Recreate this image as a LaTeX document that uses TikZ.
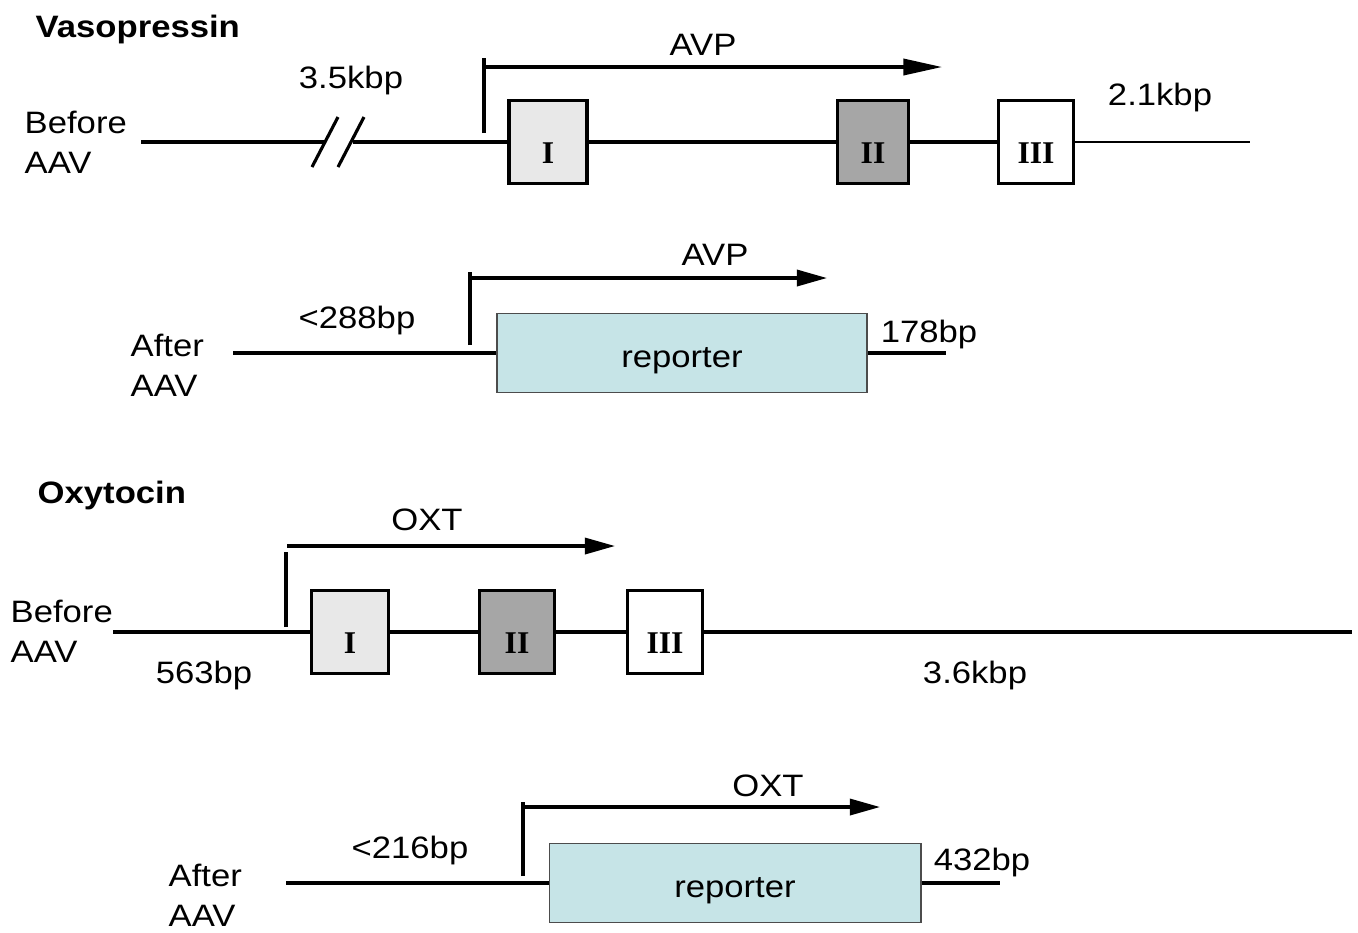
\documentclass[tikz,border=0pt]{standalone}
\usepackage{fontspec}
\setmainfont{Liberation Sans}[FakeStretch=1.12]
\newfontfamily\exonfont{Liberation Serif}
\usetikzlibrary{arrows.meta}
\usetikzlibrary{positioning}
\definecolor{reportercyan}{RGB}{198,228,231}

\begin{document}
\begin{tikzpicture}[x=0.01cm,y=-0.01cm,
  txt/.style={font=\fontsize{8.8}{11.4}\selectfont,inner sep=0pt},
  ttl/.style={font=\fontsize{8.8}{11.4}\selectfont\bfseries,inner sep=0pt,anchor=base west},
  side/.style={txt,align=left,anchor=west},
  dna/.style={line width=0.9pt},
  tail/.style={line width=0.65pt},
  tssarrow/.style={line width=0.9pt,-{Triangle[length=#1,width=4.6pt]}},
  tssarrow/.default=8.6pt,
  exon/.style={draw,line width=0.9pt,rectangle,inner sep=0pt,minimum height=0.83cm,
    font=\exonfont\bfseries\fontsize{9}{9}\selectfont,text height=12pt,text depth=0pt},
  reporter/.style={draw=black!70,line width=0.5pt,fill=reportercyan,inner sep=0pt,
    minimum width=3.7cm,minimum height=0.79cm,font=\fontsize{8.8}{11.4}\selectfont,
    text height=8.2pt,text depth=0pt}]
\useasboundingbox (0,0) rectangle (1358,932);

% Vasopressin, before AAV
\node[ttl] (vtitle) at (35,37) {Vasopressin};
\node[side] (vbefore) at (24,142) {Before\\AAV};
\coordinate (vstart) at (141,142);
\coordinate (vcuta) at (324,142);
\coordinate (vcutb) at (353,142);
\node[exon,fill=black!9,minimum width=0.78cm] (vI) at (548,142) {I};
\node[exon,fill=black!35,minimum width=0.71cm] (vII) at (873,142) {II};
\node[exon,fill=white,minimum width=0.75cm] (vIII) at (1036,142) {III};
\coordinate (vend) at (1250,142);
\draw[dna] (vstart) -- (vcuta);
\draw[dna] (vcutb) -- (vI);
\draw[dna] (vI) -- (vII);
\draw[dna] (vII) -- (vIII);
\draw[tail] (vIII) -- (vend);
\draw[dna] (312,167) -- (338,117);
\draw[dna] (338,167) -- (364,117);
\coordinate (vtssa) at (484,133);
\coordinate (vtssb) at (484,58);
\coordinate (vtssc) at (484,67);
\coordinate (vtssd) at (942,67);
\draw[dna] (vtssa) -- (vtssb);
\draw[tssarrow=11pt] (vtssc) -- (vtssd);
\node[txt,anchor=base] (vavp) at (703,55) {AVP};
\node[txt,anchor=base] (vup) at (351,88) {3.5kbp};
\node[txt,anchor=base] (vdown) at (1160,105) {2.1kbp};

% Vasopressin, after AAV
\node[side] (vafter) at (130,365) {After\\AAV};
\coordinate (vastart) at (233,353);
\node[reporter] (vrep) at (682,353) {reporter};
\coordinate (vaend) at (946,353);
\draw[dna] (vastart) -- (vrep);
\draw[dna] (vrep) -- (vaend);
\coordinate (vatssa) at (470,345);
\coordinate (vatssb) at (470,272);
\coordinate (vatssc) at (470,278);
\coordinate (vatssd) at (827,278);
\draw[dna] (vatssa) -- (vatssb);
\draw[tssarrow] (vatssc) -- (vatssd);
\node[txt,anchor=base] (vaavp) at (715,265) {AVP};
\node[txt,anchor=base] (vaup) at (357,328) {<288bp};
\node[txt,anchor=base] (vadown) at (929,342) {178bp};

% Oxytocin, before AAV
\node[ttl] (otitle) at (37,503) {Oxytocin};
\node[side] (obefore) at (10,631) {Before\\AAV};
\coordinate (ostart) at (113,632);
\node[exon,fill=black!9,minimum width=0.77cm] (oI) at (350,632) {I};
\node[exon,fill=black!35,minimum width=0.75cm] (oII) at (517,632) {II};
\node[exon,fill=white,minimum width=0.75cm] (oIII) at (665,632) {III};
\coordinate (oend) at (1352,632);
\draw[dna] (ostart) -- (oI);
\draw[dna] (oI) -- (oII);
\draw[dna] (oII) -- (oIII);
\draw[dna] (oIII) -- (oend);
\coordinate (otssa) at (286,627);
\coordinate (otssb) at (286,552);
\coordinate (otssc) at (287,546);
\coordinate (otssd) at (615,546);
\draw[dna] (otssa) -- (otssb);
\draw[tssarrow] (otssc) -- (otssd);
\node[txt,anchor=base] (ooxt) at (427,530) {OXT};
\node[txt,anchor=base] (oup) at (204,683) {563bp};
\node[txt,anchor=base] (odown) at (975,683) {3.6kbp};

% Oxytocin, after AAV
\node[side] (oafter) at (168,895) {After\\AAV};
\coordinate (oastart) at (286,883);
\node[reporter,minimum width=3.71cm] (orep) at (735,883) {reporter};
\coordinate (oaend) at (1000,883);
\draw[dna] (oastart) -- (orep);
\draw[dna] (orep) -- (oaend);
\coordinate (oatssa) at (523,876);
\coordinate (oatssb) at (523,802);
\coordinate (oatssc) at (523,807);
\coordinate (oatssd) at (880,807);
\draw[dna] (oatssa) -- (oatssb);
\draw[tssarrow] (oatssc) -- (oatssd);
\node[txt,anchor=base] (oaoxt) at (768,796) {OXT};
\node[txt,anchor=base] (oaup) at (410,858) {<216bp};
\node[txt,anchor=base] (oadown) at (982,870) {432bp};

\end{tikzpicture}
\end{document}
